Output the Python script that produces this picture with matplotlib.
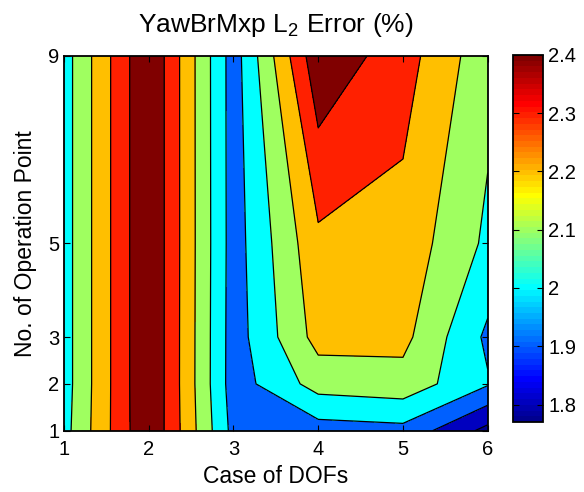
import numpy as np
import matplotlib
matplotlib.use("Agg")
import matplotlib.pyplot as plt
from matplotlib.colors import ListedColormap, Normalize
from matplotlib.cm import ScalarMappable

plt.rcParams['font.family'] = ['Liberation Sans', 'DejaVu Sans']
plt.rcParams['mathtext.fontset'] = 'custom'
plt.rcParams['mathtext.rm'] = 'Liberation Sans'

# data: L2 error (%) per case of DOFs (columns) and operation point (rows)
cases = [1, 2, 3, 4, 5, 6]
op_points = [1, 2, 3, 5, 9]
err_op1 = [2.064, 2.495, 1.968, 1.955, 1.970, 1.770]
err_op2 = [2.055, 2.500, 1.949, 2.141, 2.162, 2.009]
err_op3 = [2.055, 2.500, 1.950, 2.237, 2.229, 1.980]
err_op5 = [2.055, 2.500, 1.953, 2.278, 2.264, 2.080]
err_op9 = [2.055, 2.500, 1.951, 2.476, 2.344, 2.133]
levels = [1.8, 1.9, 2.0, 2.1, 2.2, 2.3, 2.4]
cbar_ticks = [1.8, 1.9, 2.0, 2.1, 2.2, 2.3, 2.4]
cbar_labels = ['1.8', '1.9', '2', '2.1', '2.2', '2.3', '2.4']

Z = np.array([err_op1, err_op2, err_op3, err_op5, err_op9])
X, Y = np.meshgrid(cases, op_points)


def matlab_jet(m=64):
    n = int(np.ceil(m / 4))
    u = np.concatenate([np.arange(1, n + 1) / n, np.ones(n - 1), np.arange(n, 0, -1) / n])
    g = np.arange(len(u)) + int(np.ceil(n / 2)) - (1 if m % 4 == 1 else 0)
    r = g + n
    b = g - n
    J = np.zeros((m, 3))
    for ch, idx in enumerate([r, g, b]):
        ok = (idx >= 0) & (idx < m)
        J[idx[ok], ch] = u[ok]
    return J


jet = matlab_jet(64)
cmin, cmax = Z.min(), 2.4


def level_color(v):
    i = int(np.floor((v - cmin) / (cmax - cmin) * 64))
    return jet[min(max(i, 0), 63)]


all_levels = [Z.min() - 1e-6] + levels + [Z.max() + 1e-6]
fill_colors = [level_color(v) for v in [cmin] + levels]

fig = plt.figure(figsize=(5.84, 4.92), dpi=100)
ax = fig.add_axes([0.1096, 0.1246, 0.7255, 0.7616])
ax.contourf(X, Y, Z, levels=all_levels, colors=fill_colors)
ax.contour(X, Y, Z, levels=levels, colors='black', linewidths=0.9)

ax.set_xlim(1, 6)
ax.set_ylim(1, 9)
ax.set_xticks(cases)
ax.set_yticks(op_points)
ax.tick_params(direction='in', top=True, right=True, length=4, width=0.8,
               labelsize=14.5)
ax.tick_params(axis='x', pad=7)
ax.tick_params(axis='y', pad=3.5)
for s in ax.spines.values():
    s.set_linewidth(1.3)
ax.set_xlabel('Case of DOFs', fontsize=16.5, labelpad=4)
ax.set_ylabel('No. of Operation Point', fontsize=16.5, labelpad=8)
ax.set_title(r'YawBrMxp L$_\mathregular{2}$ Error (%)', fontsize=19, pad=17)

cax = fig.add_axes([0.878, 0.1423, 0.0524, 0.746])
sm = ScalarMappable(norm=Normalize(cmin, cmax), cmap=ListedColormap(jet))
cb = fig.colorbar(sm, cax=cax, ticks=cbar_ticks)
cb.ax.set_yticklabels(cbar_labels)
cb.ax.tick_params(direction='in', left=True, right=True, length=4, width=0.8,
                  labelsize=14.5)
cb.outline.set_linewidth(1.3)

fig.savefig('out.png', dpi=100)
